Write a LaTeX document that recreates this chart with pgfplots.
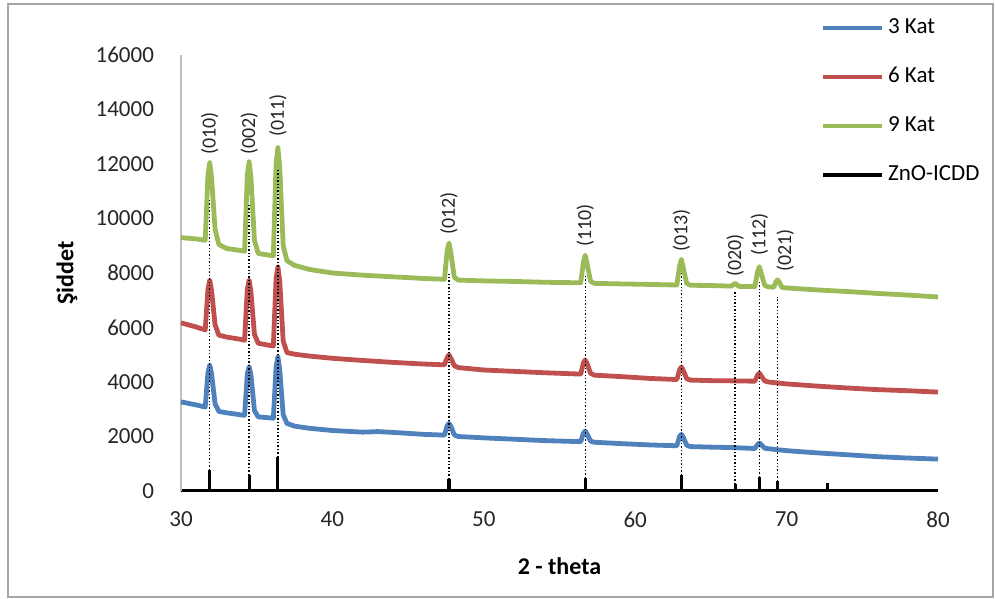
\documentclass[border=0pt]{standalone}
\usepackage{pgfplots}
\pgfplotsset{compat=1.18}
\usepackage{pgfplotstable}
\usepackage{fontspec}
\setmainfont{Carlito}
\definecolor{cblue}{RGB}{79,129,189}
\definecolor{cred}{RGB}{192,80,77}
\definecolor{cgreen}{RGB}{155,187,89}

\pgfplotstableread{
x y
30 3270
31 3160
31.6 3080
31.78 4350
31.9 4620
32.02 4300
32.25 3200
32.5 2920
33 2870
34 2790
34.2 2780
34.38 4300
34.5 4560
34.62 4250
34.85 2950
35.1 2720
35.5 2700
36 2680
36.1 2670
36.28 4550
36.4 4920
36.52 4450
36.75 2800
37 2480
37.5 2380
38.5 2300
40 2220
42 2160
43 2180
44 2150
46 2080
47.4 2050
47.58 2400
47.7 2480
47.82 2380
48.05 2060
48.3 2000
50 1950
52 1900
54 1850
56.4 1810
56.58 2120
56.7 2200
56.82 2100
57.05 1830
57.3 1790
59 1740
61 1690
62.75 1660
62.93 2000
63.05 2080
63.17 1980
63.4 1680
63.65 1630
65 1610
66.6 1590
67.9 1560
68.08 1700
68.2 1760
68.32 1700
68.55 1570
68.8 1550
70 1480
72 1400
74 1330
76 1260
78 1210
80 1170
}\kattri

\pgfplotstableread{
x y
30 6170
31 6020
31.6 5910
31.78 7400
31.9 7740
32.02 7350
32.25 6100
32.5 5720
33 5650
34 5560
34.2 5530
34.38 7400
34.5 7740
34.62 7300
34.85 5750
35.1 5420
35.5 5380
36 5330
36.1 5320
36.28 7800
36.4 8220
36.52 7700
36.75 5500
37 5080
37.5 5020
38.5 4950
40 4870
42 4790
44 4720
46 4660
47.4 4630
47.58 4900
47.7 5000
47.82 4880
48.05 4600
48.3 4530
50 4440
52 4390
54 4340
56.4 4290
56.58 4700
56.7 4810
56.82 4680
57.05 4320
57.3 4250
59 4200
61 4130
62.75 4090
62.93 4450
63.05 4550
63.17 4430
63.4 4120
63.65 4070
65 4050
66.6 4040
67.9 4030
68.08 4250
68.2 4330
68.32 4230
68.55 4040
68.8 4000
70 3930
72 3850
74 3780
76 3720
78 3680
80 3630
}\katalti

\pgfplotstableread{
x y
30 9300
31 9250
31.6 9200
31.78 11600
31.9 12050
32.02 11500
32.25 9600
32.5 9050
33 8900
34 8820
34.2 8800
34.38 11600
34.5 12080
34.62 11500
34.85 9200
35.1 8720
35.5 8680
36 8640
36.1 8630
36.28 12000
36.4 12600
36.52 11900
36.75 9000
37 8450
37.5 8280
38.5 8130
40 8000
42 7920
44 7860
46 7800
47.4 7770
47.58 8800
47.7 9100
47.82 8750
48.05 7850
48.3 7740
50 7710
52 7690
54 7660
56.4 7640
56.58 8400
56.7 8650
56.82 8350
57.05 7700
57.3 7620
59 7600
61 7580
62.75 7560
62.93 8250
63.05 8500
63.17 8200
63.4 7620
63.65 7550
65 7540
66.35 7520
66.6 7620
66.85 7510
67.9 7500
68.08 8050
68.2 8230
68.32 8000
68.55 7550
68.8 7490
69.15 7480
69.3 7680
69.4 7750
69.5 7680
69.7 7470
70 7450
72 7380
74 7320
76 7250
78 7190
80 7120
}\katdokuz

\begin{document}
\begin{tikzpicture}
\begin{axis}[
  scale only axis, width=378.5pt, height=218pt,
  xmin=30, xmax=80, ymin=0, ymax=16000,
  xtick={30,40,...,80}, ytick={0,2000,...,16000},
  scaled y ticks=false,
  axis x line*=bottom, axis y line*=left,
  x axis line style={black, line width=1.5pt, -},
  y axis line style={black!25, line width=0.6pt, -},
  major tick length=0pt,
  /pgf/number format/assume math mode=true,
  /pgf/number format/1000 sep={},
  /pgf/number format/fixed,
  tick label style={font=\fontsize{11.5}{13}\selectfont, text=black!85},
  yticklabel style={xshift=-10pt},
  xticklabel style={yshift=-7pt},
  xlabel={2 - theta}, ylabel={Şiddet},
  xlabel style={at={(axis description cs:0.5,-0.172)}, anchor=center, font=\bfseries\fontsize{12}{14}\selectfont},
  ylabel style={at={(axis description cs:-0.1506,0.5)}, anchor=center, font=\bfseries\fontsize{12}{14}\selectfont},
  clip=false,
  legend style={at={(axis description cs:0.845,1.096)}, anchor=north west, draw=none, fill=none,
    font=\fontsize{11.5}{13}\selectfont, inner sep=0pt, row sep=10.5pt,
    nodes={text height=8pt, text depth=2pt, inner sep=2pt}},
  legend cell align=left,
  legend image code/.code={\draw[#1, line width=2pt] (0pt,0pt) -- (29.5pt,0pt);},
]
\addplot[cblue, line width=2.4pt, line join=round] table[x=x,y=y] {\kattri};
\addlegendentry{3 Kat}
\addplot[cred, line width=2.4pt, line join=round] table[x=x,y=y] {\katalti};
\addlegendentry{6 Kat}
\addplot[cgreen, line width=2.4pt, line join=round] table[x=x,y=y] {\katdokuz};
\addlegendentry{9 Kat}
\addplot[ycomb, black, line width=1.6pt] coordinates {
(31.9,770) (34.5,590) (36.4,1250) (47.7,440) (56.7,480) (63.05,590) (66.6,260) (68.2,510) (69.4,370) (72.7,290)};
\addlegendentry{ZnO-ICDD}

\addplot[black, densely dotted, line width=0.7pt, forget plot] coordinates {(31.9,770) (31.9,10700)};
\addplot[black, densely dotted, line width=0.7pt, forget plot] coordinates {(34.5,590) (34.5,10500)};
\addplot[black, densely dotted, line width=0.7pt, forget plot] coordinates {(36.4,1250) (36.4,11780)};
\addplot[black, densely dotted, line width=0.7pt, forget plot] coordinates {(47.7,440) (47.7,8000)};
\addplot[black, densely dotted, line width=0.7pt, forget plot] coordinates {(56.7,480) (56.7,7930)};
\addplot[black, densely dotted, line width=0.7pt, forget plot] coordinates {(63.05,590) (63.05,8000)};
\addplot[black, densely dotted, line width=0.7pt, forget plot] coordinates {(66.6,260) (66.6,7300)};
\addplot[black, densely dotted, line width=0.7pt, forget plot] coordinates {(68.2,510) (68.2,7740)};
\addplot[black, densely dotted, line width=0.7pt, forget plot] coordinates {(69.4,370) (69.4,7120)};

\begin{scope}[every node/.style={rotate=90, anchor=west, inner sep=0pt, font=\fontsize{10}{12}\selectfont, text=black!85}]
\node at (axis cs:31.9,12330) {(010)};
\node at (axis cs:34.5,12330) {(002)};
\node at (axis cs:36.4,12990) {(011)};
\node at (axis cs:47.7,9390) {(012)};
\node at (axis cs:56.7,8950) {(110)};
\node at (axis cs:63.05,8770) {(013)};
\node at (axis cs:66.6,7850) {(020)};
\node at (axis cs:68.2,8620) {(112)};
\node at (axis cs:69.9,8040) {(021)};
\end{scope}
\end{axis}
\draw[black!35, line width=1pt] ([shift={(-86.5pt,243.5pt)}]current axis.south west) rectangle ([shift={(406pt,-53pt)}]current axis.south west);
\path ([shift={(-90.5pt,245.5pt)}]current axis.south west) rectangle ([shift={(407pt,-54pt)}]current axis.south west);
\end{tikzpicture}
\end{document}
